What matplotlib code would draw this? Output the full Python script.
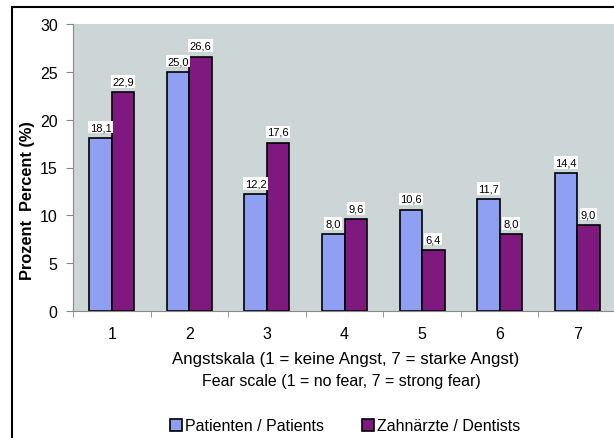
import matplotlib.pyplot as plt
import numpy as np
from matplotlib.patches import Rectangle

plt.rcParams['font.family'] = ['Liberation Sans', 'DejaVu Sans']

# Data
categories = ['1', '2', '3', '4', '5', '6', '7']
patients = [18.1, 25.0, 12.2, 8.0, 10.6, 11.7, 14.4]
dentists = [22.9, 26.6, 17.6, 9.6, 6.4, 8.0, 9.0]
patients_labels = ['18,1', '25,0', '12,2', '8,0', '10,6', '11,7', '14,4']
dentists_labels = ['22,9', '26,6', '17,6', '9,6', '6,4', '8,0', '9,0']

fig = plt.figure(figsize=(6.14, 4.39), dpi=100)
ax = fig.add_axes([73 / 614, 1 - 312 / 439, (616 - 73) / 614, (312 - 25) / 439])
ax.set_facecolor('#cdd6d6')

x = np.arange(len(categories))
w = 0.29
b1 = ax.bar(x - w / 2, patients, w, color='#8fa0f2', edgecolor='black', linewidth=1.2)
b2 = ax.bar(x + w / 2, dentists, w, color='#80197f', edgecolor='black', linewidth=1.2)

box = dict(facecolor='white', edgecolor='none', pad=1.0)
for rect, lab in zip(b1, patients_labels):
    ax.text(rect.get_x() + rect.get_width() / 2, rect.get_height() + 0.6, lab,
            ha='center', va='bottom', fontsize=8, bbox=box)
for rect, lab in zip(b2, dentists_labels):
    ax.text(rect.get_x() + rect.get_width() / 2, rect.get_height() + 0.6, lab,
            ha='center', va='bottom', fontsize=8, bbox=box)

ax.set_xlim(-0.5, len(categories) - 0.5)
ax.set_ylim(0, 30)
ax.set_yticks(range(0, 31, 5))
ax.set_xticks(x)
ax.set_xticklabels(categories, fontsize=11.5)
ax.set_xticks(np.arange(-0.5, len(categories), 1), minor=True)
ax.tick_params(axis='x', which='major', length=0, pad=11)
ax.tick_params(axis='x', which='minor', length=4, color='#888888')
ax.tick_params(axis='y', labelsize=11.5, length=5, color='#888888', pad=6)

for s in ['top', 'right']:
    ax.spines[s].set_visible(False)
ax.spines['left'].set_color('#888888')
ax.spines['bottom'].set_color('#888888')

ax.set_ylabel('Prozent  Percent (%)', fontsize=11.8, fontweight='bold')
ax.yaxis.set_label_coords((35 - 73) / 543, (312 - 201) / 287)

fig.text(346 / 614, 1 - 360 / 439, 'Angstskala (1 = keine Angst, 7 = starke Angst)',
         ha='center', va='center', fontsize=12.2)
fig.text(341 / 614, 1 - 382 / 439, 'Fear scale (1 = no fear, 7 = strong fear)',
         ha='center', va='center', fontsize=11.5)

fig.legend([b1, b2], ['Patienten / Patients', 'Zahnärzte / Dentists'],
           loc='center', bbox_to_anchor=(345 / 614, 1 - 427 / 439), ncol=2, frameon=False,
           fontsize=11.5, handlelength=0.75, handleheight=0.75, handletextpad=0.2,
           columnspacing=2.4)

# outer frame (cut off at right and bottom)
fig.patches.append(Rectangle((12 / 614, -0.1), 1.2, (439 - 8) / 439 + 0.1,
                             transform=fig.transFigure, fill=False,
                             edgecolor='black', linewidth=1.5))

fig.savefig('out.png', dpi=100)
